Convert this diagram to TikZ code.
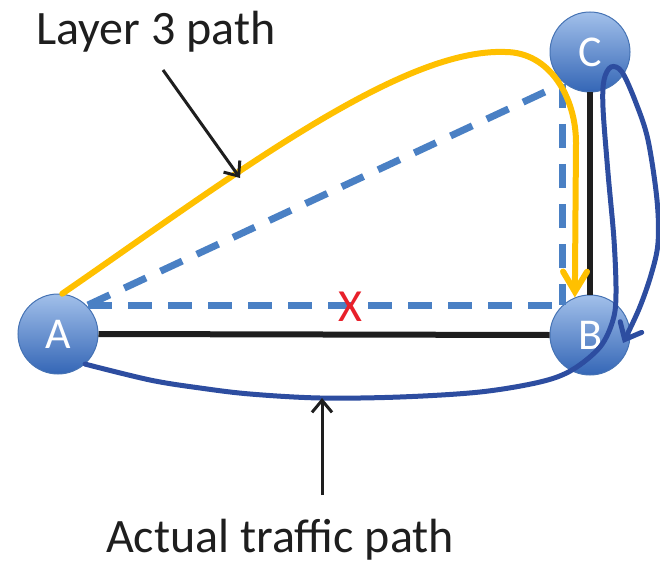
\documentclass[tikz,border=0pt]{standalone}
\usepackage{fontspec}
\setmainfont{Carlito}
\usetikzlibrary{arrows.meta}
\definecolor{yel}{HTML}{FFC000}
\definecolor{dashblue}{HTML}{4A80C4}
\definecolor{darkblue}{HTML}{2D4DA0}
\definecolor{nodetop}{HTML}{A2C0EA}
\definecolor{nodebot}{HTML}{3466B6}
\definecolor{nodeedge}{HTML}{4673B4}
\definecolor{txt}{HTML}{1E1E1E}
\definecolor{redx}{HTML}{E8202A}
\begin{document}
\begin{tikzpicture}[x=1pt,y=1pt,
  router/.style={circle, minimum size=80pt, inner sep=0pt, draw=nodeedge, line width=1pt,
    top color=nodetop, bottom color=nodebot, text=white, font=\fontsize{44}{44}\selectfont},
  lbl/.style={font=\fontsize{48}{52}\selectfont, text=txt, anchor=base, inner sep=0pt},
  link/.style={line width=6pt, draw=txt},
  l3/.style={line width=6pt, draw=yel, line cap=round, -{Straight Barb[length=20pt,width=24pt,line cap=round]}},
  dashlink/.style={line width=7pt, draw=dashblue, dash pattern=on 24pt off 16pt},
  actual/.style={line width=5pt, draw=darkblue, line cap=round, -{Straight Barb[length=14pt,width=24pt,line cap=round]}},
  pointer/.style={line width=3pt, draw=txt, -{Straight Barb[length=12pt,width=20pt]}}
]
\useasboundingbox (0,0) rectangle (660,563);

% routers
\node[router] (A) at (58,229) {A};
\node[router] (B) at (590,228) {B};
\node[router] (C) at (590,511) {C};

% physical links
\draw[link] (A.east) -- (B.west);
\draw[link] (C.south) -- (B.north);

% dashed triangle
\coordinate (dA) at (88,258);
\coordinate (dC) at (562,479);
\coordinate (dB) at (562,258);
\draw[dashlink] (dA) -- (dC);
\draw[dashlink] (dC) -- (dB);
\draw[dashlink] (dA) -- (dB);

% red X
\node[text=redx, font=\fontsize{46}{46}\selectfont, inner sep=0pt] (X) at (350,256) {X};

% layer 3 path
\draw[l3] (A.84) .. controls (230,385) and (400,515) .. (505,511)
  to[out=0,in=90] (576,420) -- (B.112);

% actual traffic path
\coordinate (bt) at (623,220);
\draw[actual] plot[smooth, tension=0.55] coordinates {(A.-48) (150,183) (200,175) (250,169)
  (320,165) (400,166) (480,171) (540,181) (572,193) (600,216) (613,243) (616,270)
  (614,323) (608,390) (603,455) (604,483) (611,496) (622,491) (636,460) (648,423)
  (657,363) (658,320) (651,288) (639,254) (bt)};

% labels
\node[lbl] (l3lbl) at (156,518) {Layer 3 path};
\node[lbl] (actlbl) at (280,11) {Actual traffic path};
\coordinate (p1s) at (163,493);
\coordinate (p1e) at (240,385);
\coordinate (p2s) at (322,68);
\coordinate (p2e) at (322,165);
\draw[pointer] (p1s) -- (p1e);
\draw[pointer] (p2s) -- (p2e);
\end{tikzpicture}
\end{document}
